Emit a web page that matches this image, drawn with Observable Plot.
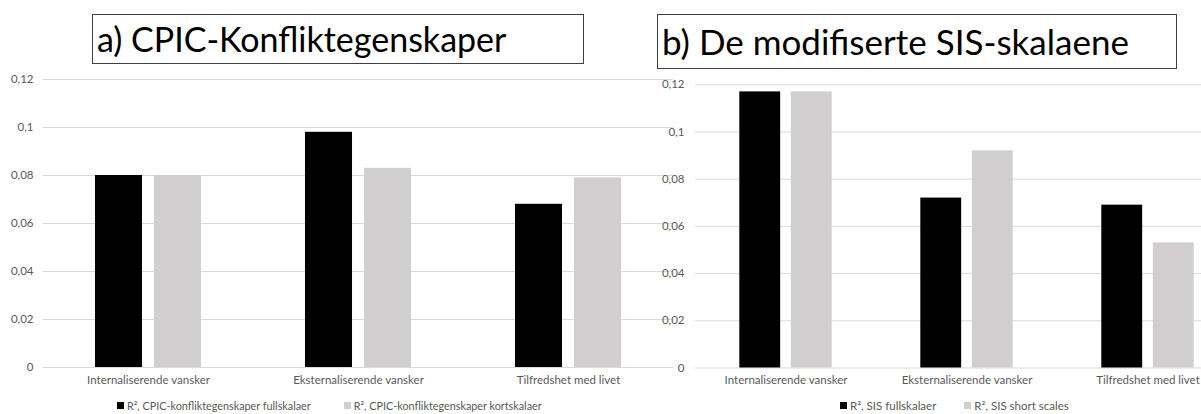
<!DOCTYPE html>
<html>
<head>
<meta charset="utf-8">
<script src="https://cdn.jsdelivr.net/npm/d3@7"></script>
<script src="https://cdn.jsdelivr.net/npm/@observablehq/plot@0.6"></script>
<style>
  html, body { margin: 0; padding: 0; background: #fff; }
  #wrap { position: relative; width: 1201px; height: 414px; overflow: hidden; background: #fff; font-family: Lato, "Open Sans", sans-serif; }
  .panel { position: absolute; top: 0; }
  .panel svg { background: transparent; max-width: none !important; }
  .title { position: absolute; box-sizing: border-box; border: 1px solid #404040; background: #fff; color: #000;
           line-height: 1; display: flex; align-items: center; padding-left: 4px; white-space: nowrap; }
  .legend { position: absolute; top: 399px; font-size: 10.8px; color: #595959; display: flex; align-items: center; white-space: nowrap; }
  .item { display: flex; align-items: center; }
  .sw { display: inline-block; width: 7px; height: 7px; margin-right: 3px; }
</style>
</head>
<body>
<div id="wrap">
  <div class="panel" id="panelA" style="left:0px; width:680px;"></div>
  <div class="panel" id="panelB" style="left:650px; width:600px;"></div>
  <div class="title" id="titleA" style="left:92px; top:14px; width:492px; height:50px; font-size:34px;"></div>
  <div class="title" id="titleB" style="left:657px; top:14px; width:520px; height:55px; font-size:35px;"></div>
  <div class="legend" id="legendA" style="left:117px; gap:33px;"></div>
  <div class="legend" id="legendB" style="left:840px; gap:28px; font-size:11.5px;"></div>
</div>
<script>
// ---- data ----
const categories = ["Internaliserende vansker", "Eksternaliserende vansker", "Tilfredshet med livet"];

const titleA = "a) CPIC-Konfliktegenskaper";
const seriesA = ["R², CPIC-konfliktegenskaper fullskalaer", "R², CPIC-konfliktegenskaper kortskalaer"];
const valuesAFull = [0.080, 0.098, 0.068];
const valuesAShort = [0.080, 0.083, 0.079];

const titleB = "b) De modifiserte SIS-skalaene";
const seriesB = ["R², SIS fullskalaer", "R², SIS short scales"];
const valuesBFull = [0.117, 0.072, 0.069];
const valuesBShort = [0.117, 0.092, 0.053];

const yTicks = [0, 0.02, 0.04, 0.06, 0.08, 0.1, 0.12];
const yTickLabels = ["0", "0,02", "0,04", "0,06", "0,08", "0,1", "0,12"];
const barColors = ["#000000", "#d0cece"];

// ---- build ----
function rows(series, full, short) {
  return categories.flatMap((c, i) => [
    {category: c, series: series[0], value: full[i]},
    {category: c, series: series[1], value: short[i]}
  ]);
}

function panel({series, full, short, width, height, marginLeft, marginRight, marginTop, marginBottom, paddingInner, paddingOuter, tickPadding}) {
  return Plot.plot({
    width, height, marginLeft, marginRight, marginTop, marginBottom,
    style: {background: "transparent", color: "#595959", fontFamily: "Lato, 'Open Sans', sans-serif", fontSize: "11.5px", overflow: "visible", maxWidth: "none"},
    fx: {domain: categories, padding: 0, axis: "bottom", tickSize: 0, tickPadding: 8, label: null},
    x: {domain: series, paddingInner, paddingOuter, round: false, axis: null},
    y: {domain: [0, 0.12], ticks: yTicks, tickFormat: d => yTickLabels[yTicks.indexOf(d)], tickSize: 0, tickPadding, label: null},
    color: {domain: series, range: barColors},
    marks: [
      Plot.ruleY(yTicks, {stroke: "#d9d9d9", strokeWidth: 1}),
      Plot.barY(rows(series, full, short), {fx: "category", x: "series", y: "value", fill: "series"})
    ]
  });
}

document.getElementById("panelA").appendChild(panel({
  series: seriesA, full: valuesAFull, short: valuesAShort,
  width: 680, height: 392, marginLeft: 42.7, marginRight: 7.3, marginTop: 79, marginBottom: 25,
  paddingInner: 0.203, paddingOuter: 0.881, tickPadding: 10
}));

document.getElementById("panelB").appendChild(panel({
  series: seriesB, full: valuesBFull, short: valuesBShort,
  width: 600, height: 392, marginLeft: 44.2, marginRight: 10.7, marginTop: 84.3, marginBottom: 24.5,
  paddingInner: 0.207, paddingOuter: 0.86, tickPadding: 11
}));

document.getElementById("titleA").textContent = titleA;
document.getElementById("titleB").textContent = titleB;

function legend(id, series) {
  const el = document.getElementById(id);
  series.forEach((s, i) => {
    const item = document.createElement("div");
    item.className = "item";
    const sw = document.createElement("span");
    sw.className = "sw";
    sw.style.background = barColors[i];
    const t = document.createElement("span");
    t.textContent = s;
    item.appendChild(sw);
    item.appendChild(t);
    el.appendChild(item);
  });
}
legend("legendA", seriesA);
legend("legendB", seriesB);
</script>
</body>
</html>
